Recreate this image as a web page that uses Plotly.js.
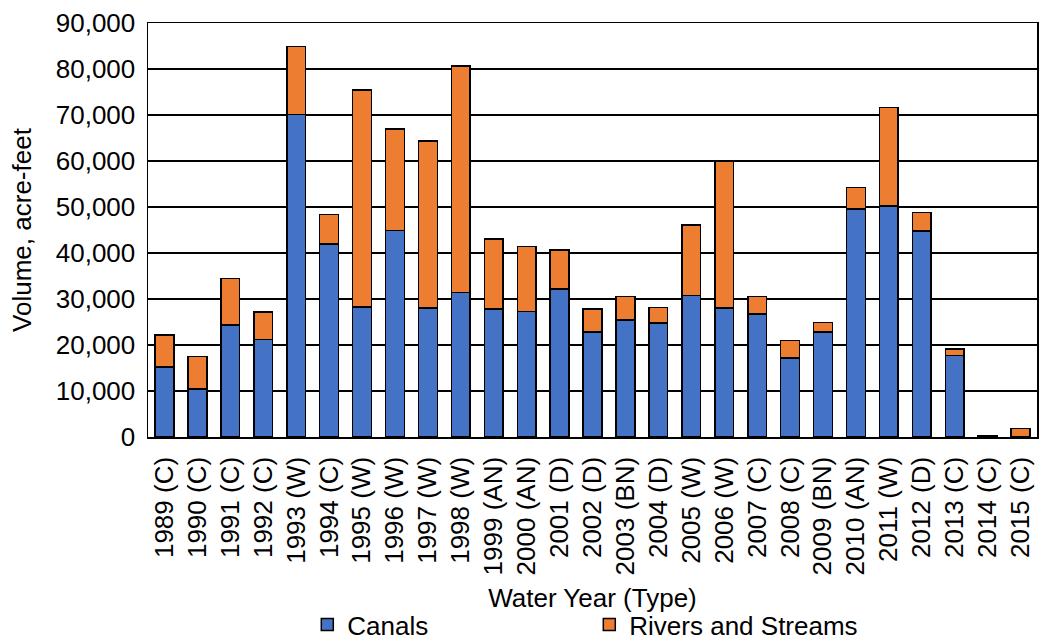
<!DOCTYPE html>
<html>
<head>
<meta charset="utf-8">
<script src="https://cdn.plot.ly/plotly-3.0.1.min.js"></script>
<style>
html,body{margin:0;padding:0;background:#fff;}
#chart{width:1039px;height:641px;}
</style>
</head>
<body>
<div id="chart"></div>
<script>
const categories = ["1989 (C)","1990 (C)","1991 (C)","1992 (C)","1993 (W)","1994 (C)","1995 (W)","1996 (W)","1997 (W)","1998 (W)","1999 (AN)","2000 (AN)","2001 (D)","2002 (D)","2003 (BN)","2004 (D)","2005 (W)","2006 (W)","2007 (C)","2008 (C)","2009 (BN)","2010 (AN)","2011 (W)","2012 (D)","2013 (C)","2014 (C)","2015 (C)"];
const canals = [15200,10400,24300,21200,70100,42000,28300,44900,28000,31400,27800,27300,32200,22800,25400,24800,30800,28000,26700,17200,22800,49600,50200,44800,17700,150,0];
const totals = [22200,17500,34500,27200,84900,48400,75400,67000,64400,80700,43000,41400,40700,27800,30500,28200,46100,59900,30500,21000,24900,54200,71600,48800,19100,200,1800];
const rivers = totals.map((t,i)=>t-canals[i]);
const yTickVals = [0,10000,20000,30000,40000,50000,60000,70000,80000,90000];

const font = {family:"Liberation Sans, Arial, sans-serif", size:26, color:"#000"};
const data = [
  {type:"bar", name:"Canals", x:categories, y:canals,
   marker:{color:"#4472C4", line:{color:"#000", width:1.5}}},
  {type:"bar", name:"Rivers and Streams", x:categories, y:rivers,
   marker:{color:"#ED7D31", line:{color:"#000", width:1.5}}}
];
const layout = {
  width:1039, height:641,
  barmode:"stack", bargap:0.43,
  font:font,
  paper_bgcolor:"#fff", plot_bgcolor:"#fff",
  margin:{l:148, r:2, t:23, b:204, autoexpand:false},
  xaxis:{
    type:"category", tickangle:-90, ticks:"", showgrid:false, automargin:false,
    showline:true, linecolor:"#000", linewidth:1.5, mirror:true,
    tickfont:font, ticklabelstandoff:8,
    title:{text:"Water Year (Type)", font:font, standoff:14}
  },
  yaxis:{
    range:[0,90000], tickvals:yTickVals, tickformat:",d", automargin:false,
    showgrid:true, gridcolor:"#000", gridwidth:1.3,
    showline:true, linecolor:"#000", linewidth:1.5, mirror:true,
    ticks:"", ticklabelstandoff:6, zeroline:false,
    tickfont:font,
    title:{text:"Volume, acre-feet", font:font, standoff:16}
  },
  showlegend:true,
  legend:{orientation:"h", x:0.4964, xanchor:"center", y:-0.453, yanchor:"middle",
          font:font, entrywidth:237, traceorder:"normal", bgcolor:"rgba(0,0,0,0)"}
};
Plotly.newPlot("chart", data, layout, {displayModeBar:false, staticPlot:true});
</script>
</body>
</html>
